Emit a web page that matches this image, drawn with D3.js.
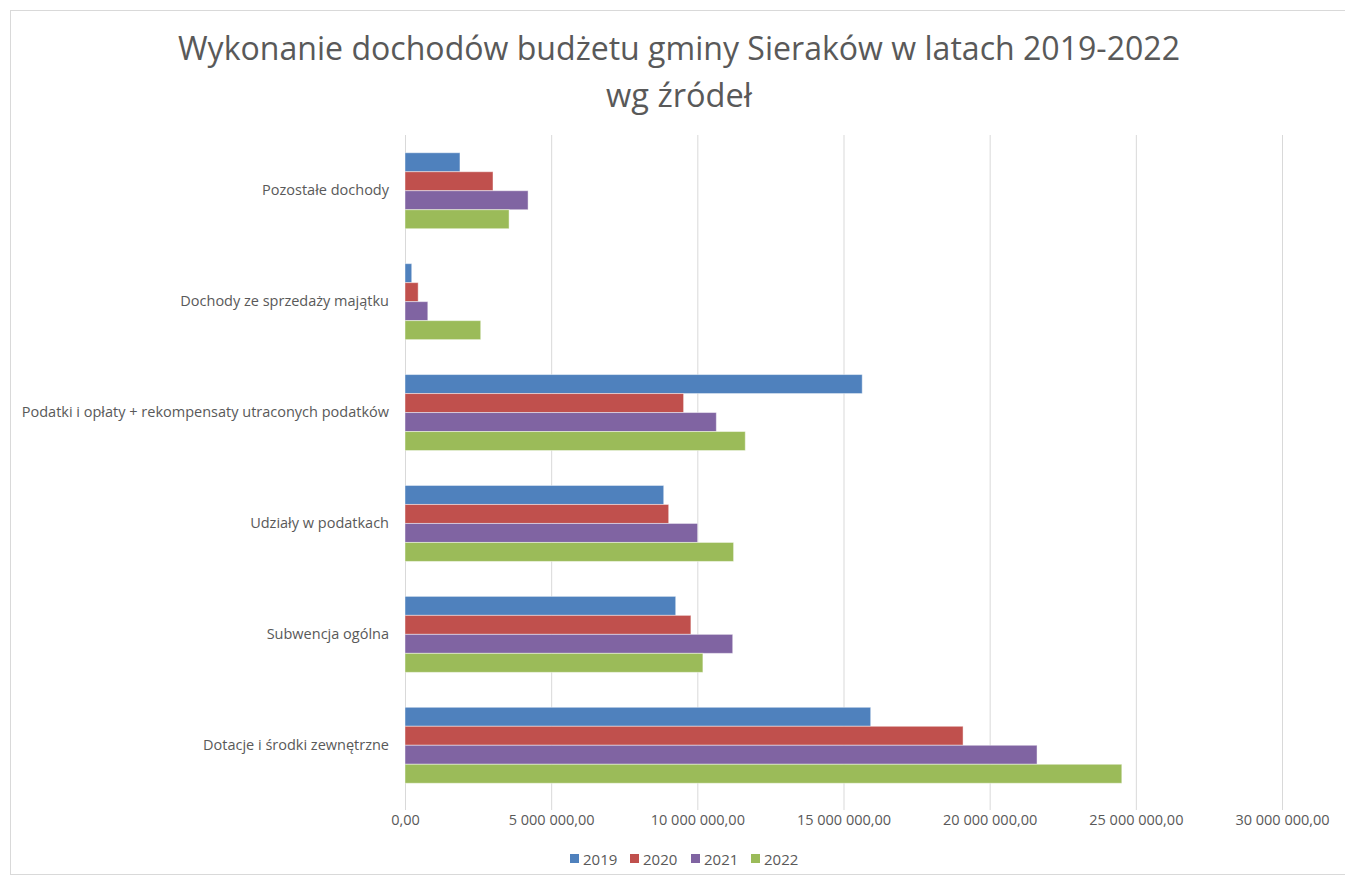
<!DOCTYPE html>
<html>
<head>
<meta charset="utf-8">
<script src="https://cdn.jsdelivr.net/npm/d3@7"></script>
<style>
  body { margin: 0; background: #fff; }
  svg { display: block; }
  text { font-family: "Open Sans", "Noto Sans", sans-serif; fill: #595959; }
</style>
</head>
<body>
<svg id="chart" width="1345" height="879"></svg>
<script>
// categories top to bottom
const categories = [
  "Pozostałe dochody",
  "Dochody ze sprzedaży majątku",
  "Podatki i opłaty + rekompensaty utraconych podatków",
  "Udziały w podatkach",
  "Subwencja ogólna ",
  "Dotacje i środki zewnętrzne"
];
const years = ["2019", "2020", "2021", "2022"];
const colors = ["#4F81BD", "#C0504D", "#8064A2", "#9BBB59"];

// values per year, in the order of categories
const v2019 = [1880000, 230000, 15640000, 8850000, 9260000, 15930000];
const v2020 = [3010000, 450000, 9530000, 9020000, 9780000, 19090000];
const v2021 = [4210000, 780000, 10650000, 10010000, 11210000, 21620000];
const v2022 = [3560000, 2590000, 11640000, 11240000, 10190000, 24520000];
const series = [v2019, v2020, v2021, v2022];

const xTicks = [0, 5000000, 10000000, 15000000, 20000000, 25000000, 30000000];

const svg = d3.select("#chart");

// outer chart frame
svg.append("rect")
  .attr("x", 10.5).attr("y", 10.5)
  .attr("width", 1345).attr("height", 864)
  .attr("fill", "none").attr("stroke", "#d9d9d9");

// title
const title = svg.append("g");
title.append("text")
  .attr("x", 679).attr("y", 60)
  .attr("text-anchor", "middle")
  .attr("font-size", 32)
  .attr("textLength", 1002).attr("lengthAdjust", "spacingAndGlyphs")
  .text("Wykonanie dochodów budżetu gminy Sieraków w latach 2019-2022");
title.append("text")
  .attr("x", 679).attr("y", 107)
  .attr("text-anchor", "middle")
  .attr("font-size", 32)
  .attr("textLength", 146).attr("lengthAdjust", "spacingAndGlyphs")
  .text("wg źródeł");

const plotLeft = 405, plotRight = 1282, plotTop = 135, plotBottom = 801;

const x = d3.scaleLinear().domain([0, 30000000]).range([plotLeft, plotRight]);
const y = d3.scaleBand().domain(categories).range([plotTop, plotBottom])
  .paddingInner(0.315).paddingOuter(0.16);
const yInner = d3.scaleBand().domain(years).range([0, y.bandwidth()]);

const fmt = d => d3.format(",.2f")(d).replace(/,/g, " ").replace(".", ",");

// gridlines
svg.append("g")
  .selectAll("line")
  .data(xTicks)
  .join("line")
  .attr("x1", d => x(d) + 0.5).attr("x2", d => x(d) + 0.5)
  .attr("y1", plotTop).attr("y2", plotBottom + 9)
  .attr("stroke", "#d9d9d9").attr("stroke-width", 1);

// bars
const groups = svg.append("g")
  .selectAll("g")
  .data(categories)
  .join("g")
  .attr("transform", d => `translate(0,${y(d)})`);

groups.selectAll("rect")
  .data((d, i) => years.map((yr, j) => ({ yr, j, value: series[j][i] })))
  .join("rect")
  .attr("x", x(0))
  .attr("y", d => yInner(d.yr))
  .attr("width", d => x(d.value) - x(0))
  .attr("height", yInner.bandwidth())
  .attr("fill", d => colors[d.j])
  .attr("stroke", "rgba(255,255,255,0.45)")
  .attr("stroke-width", 1);

// category labels
const yAxis = d3.axisLeft(y).tickSize(0).tickPadding(16);
svg.append("g")
  .attr("transform", `translate(${plotLeft},0)`)
  .call(yAxis)
  .call(g => g.select(".domain").remove())
  .call(g => g.selectAll("text")
    .attr("font-size", 14.5)
    .attr("fill", "#595959"));

// x axis labels
const xAxis = d3.axisBottom(x).tickValues(xTicks).tickFormat(fmt).tickSize(0).tickPadding(14);
svg.append("g")
  .attr("transform", `translate(0,${plotBottom})`)
  .call(xAxis)
  .call(g => g.select(".domain").remove())
  .call(g => g.selectAll("text")
    .attr("font-size", 14.5)
    .attr("fill", "#595959"));
svg.selectAll(".tick text").attr("font-family", null);
svg.selectAll("g[font-family]").attr("font-family", null).attr("font-size", null);

// legend
const legendX = [570, 630, 691, 751];
const legend = svg.append("g").attr("transform", "translate(0,859)");
const li = legend.selectAll("g")
  .data(years)
  .join("g")
  .attr("transform", (d, i) => `translate(${legendX[i]},0)`);
li.append("rect")
  .attr("x", 0).attr("y", -5)
  .attr("width", 9).attr("height", 9)
  .attr("fill", (d, i) => colors[i]);
li.append("text")
  .attr("x", 13).attr("y", 5.5)
  .attr("font-size", 15)
  .text(d => d);
</script>
</body>
</html>
